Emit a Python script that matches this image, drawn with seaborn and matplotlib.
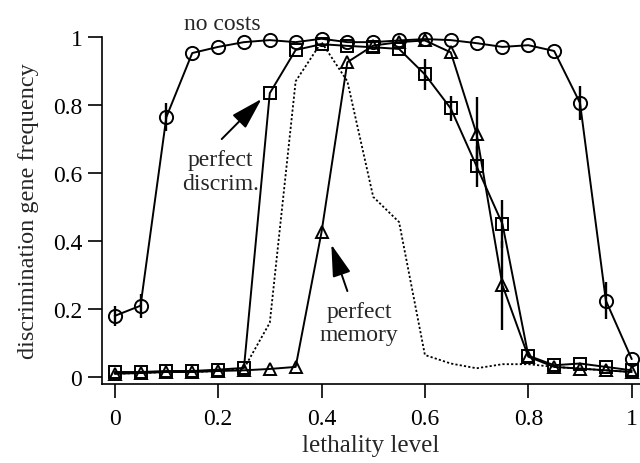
import numpy as np
import pandas as pd
import matplotlib
matplotlib.use("Agg")
import matplotlib.pyplot as plt
import seaborn as sns

# ---------------- data ----------------
lethality = [0.0, 0.05, 0.1, 0.15, 0.2, 0.25, 0.3, 0.35, 0.4, 0.45, 0.5,
             0.55, 0.6, 0.65, 0.7, 0.75, 0.8, 0.85, 0.9, 0.95, 1.0]

no_costs = [0.18, 0.21, 0.765, 0.953, 0.971, 0.985, 0.991, 0.985, 0.995, 0.985, 0.985,
            0.99, 0.994, 0.991, 0.982, 0.971, 0.976, 0.959, 0.806, 0.225, 0.053]
no_costs_err = [0.03, 0.035, 0.04, 0, 0, 0, 0, 0, 0, 0, 0,
                0, 0, 0, 0, 0, 0, 0, 0.05, 0.055, 0]

perfect_discrim = [0.015, 0.015, 0.018, 0.018, 0.022, 0.027, 0.835, 0.962, 0.979, 0.974, 0.97,
                   0.965, 0.89, 0.79, 0.62, 0.45, 0.063, 0.035, 0.04, 0.03, 0.02]
perfect_discrim_err = [0, 0, 0, 0, 0, 0, 0, 0, 0, 0, 0,
                       0, 0.045, 0.037, 0.06, 0.07, 0, 0, 0, 0, 0]

perfect_memory = [0.01, 0.012, 0.015, 0.015, 0.018, 0.02, 0.024, 0.03, 0.426, 0.926, 0.975,
                  0.985, 0.99, 0.955, 0.715, 0.27, 0.06, 0.03, 0.025, 0.02, 0.015]
perfect_memory_err = [0, 0, 0, 0, 0, 0, 0, 0, 0, 0, 0,
                      0, 0, 0, 0.11, 0.13, 0, 0, 0, 0, 0]

dotted = [0.01, 0.012, 0.015, 0.015, 0.018, 0.025, 0.16, 0.87, 0.985, 0.87, 0.53,
          0.456, 0.065, 0.04, 0.026, 0.038, 0.038, 0.03, 0.025, 0.02, 0.015]

x_ticks = [0, 0.2, 0.4, 0.6, 0.8, 1]
x_ticklabels = ["0", "0.2", "0.4", "0.6", "0.8", "1"]
y_ticks = [0, 0.2, 0.4, 0.6, 0.8, 1]
y_ticklabels = ["0", "0.2", "0.4", "0.6", "0.8", "1"]

# ---------------- style ----------------
sns.set_style("ticks")
plt.rcParams["font.family"] = ["Liberation Serif", "DejaVu Serif"]

FS = 17
fig = plt.figure(figsize=(6.4, 4.64), dpi=100)
ax = fig.add_axes([0.159, 0.170, 0.8406, 0.748])

df = pd.DataFrame({
    "x": lethality,
    "no_costs": no_costs,
    "perfect_discrim": perfect_discrim,
    "perfect_memory": perfect_memory,
    "dotted": dotted,
})

lw = 1.4
sns.lineplot(data=df, x="x", y="dotted", ax=ax, color="black", lw=1.3,
             linestyle=(0, (1.2, 1.2)), zorder=2)

for col, err, mk, ms in [("no_costs", no_costs_err, "o", 9.5),
                         ("perfect_discrim", perfect_discrim_err, "s", 8),
                         ("perfect_memory", perfect_memory_err, "^", 9)]:
    sns.lineplot(data=df, x="x", y=col, ax=ax, color="black", lw=lw,
                 marker=mk, markersize=ms, markerfacecolor="none",
                 markeredgecolor="black", markeredgewidth=1.4,
                 clip_on=False, zorder=3)
    e = np.array(err)
    m = e > 0
    ax.vlines(np.array(lethality)[m], (np.array(df[col]) - e)[m],
              (np.array(df[col]) + e)[m], color="black", lw=1.7, zorder=3)

ax.set_xlim(-0.025, 1.0155)
ax.set_ylim(-0.0206, 1.0)
ax.set_xticks(x_ticks)
ax.set_xticklabels(x_ticklabels)
ax.set_yticks(y_ticks)
ax.set_yticklabels(y_ticklabels)
ax.tick_params(axis="both", direction="out", length=10, width=1.2,
               labelsize=FS, color="black", labelcolor="black")
ax.tick_params(axis="x", pad=7)
ax.tick_params(axis="y", pad=4)
sns.despine(ax=ax)
for s in ["left", "bottom"]:
    ax.spines[s].set_linewidth(1.2)
    ax.spines[s].set_color("black")

ax.set_xlabel("lethality level", fontsize=18, labelpad=4)
ax.set_ylabel("discrimination gene frequency", fontsize=17.5, labelpad=10)

# annotations
arrow = dict(arrowstyle="-|>,head_length=1.1,head_width=0.32",
             color="black", lw=1.4, shrinkA=0, shrinkB=0, mutation_scale=18)
ax.text(0.209, 1.04, "no costs", fontsize=FS, ha="center", va="center")
ax.text(0.205, 0.605, "perfect\ndiscrim.", fontsize=FS, ha="center",
        va="center", linespacing=1.15)
ax.annotate("", xy=(0.284, 0.818), xytext=(0.207, 0.70), arrowprops=arrow)
ax.text(0.473, 0.16, "perfect\nmemory", fontsize=FS, ha="center",
        va="center", linespacing=1.15)
ax.annotate("", xy=(0.419, 0.39), xytext=(0.45, 0.253), arrowprops=arrow)

fig.savefig("out.png", dpi=100)
